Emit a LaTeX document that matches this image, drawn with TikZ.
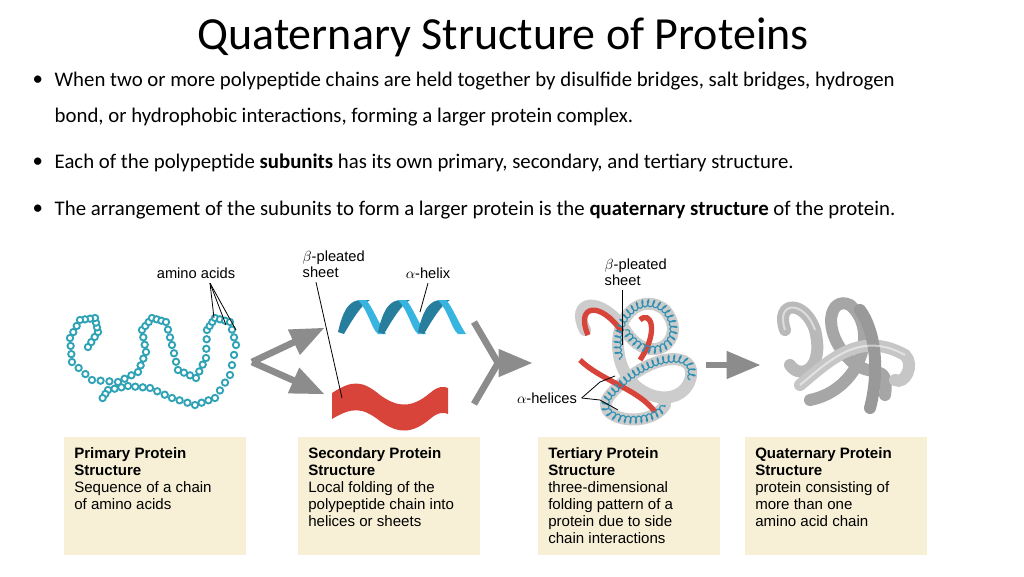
\documentclass[tikz,border=0pt]{standalone}
\usepackage{fontspec}
\setmainfont{Carlito}
\newfontfamily\figfont{Liberation Sans}
\usetikzlibrary{positioning,calc,arrows,decorations.pathmorphing}

\definecolor{beige}{HTML}{F7F0D6}
\definecolor{bead}{HTML}{2FA3B5}
\definecolor{helixblue}{HTML}{38B4E0}
\definecolor{sheetred}{HTML}{D9443A}
\definecolor{arrowgray}{HTML}{8C8C8C}

\tikzset{
	capbox/.style={fill=beige, minimum width=136pt, minimum height=88pt, anchor=north west},
	captext/.style={font=\figfont\fontsize{11.3}{12.8}\selectfont, align=left, anchor=north west, inner sep=0pt},
	figlabel/.style={font=\figfont\fontsize{11}{12}\selectfont, align=left},
	bullettext/.style={anchor=west, font=\fontsize{15.6}{18}\selectfont},
	pointer/.style={black, line width=0.6pt},
	bigarrow/.style={arrowgray, line width=5pt, -triangle 45},
	tube/.style={line width=9pt, line cap=round},
	beadstyle/.style={draw=bead, line width=1.4pt, fill=white},
}

\begin{document}
\begin{tikzpicture}[x=0.75pt, y=-0.75pt, >=stealth']
	\useasboundingbox (0,0) rectangle (1024,576);

	% title and bullets
	\node (title) at (503,37) {\fontsize{34.5}{38}\selectfont Quaternary Structure of Proteins};
	\foreach \y in {81,163,210} \node[bullettext] at (28,\y) {\textbullet};
	\node[bullettext] (b1) at (50,81) {When two or more polypeptide chains are held together by disulfide bridges, salt bridges, hydrogen};
	\node[bullettext] (b1b) at (50,117) {bond, or hydrophobic interactions, forming a larger protein complex.};
	\node[bullettext] (b2) at (50,163) {Each of the polypeptide \textbf{subunits} has its own primary, secondary, and tertiary structure.};
	\node[bullettext] (b3) at (50,210) {The arrangement of the subunits to form a larger protein is the \textbf{quaternary structure} of the protein.};

	% caption boxes
	\node[capbox] (box1) at (64,437) {};
	\node[capbox] (box2) at (298,437) {};
	\node[capbox] (box3) at (538,437) {};
	\node[capbox] (box4) at (745,437) {};
	\node[captext] at ($(box1.north west)+(10,10)$) {\textbf{Primary Protein}\\\textbf{Structure}\\Sequence of a chain\\of amino acids};
	\node[captext] at ($(box2.north west)+(10,10)$) {\textbf{Secondary Protein}\\\textbf{Structure}\\Local folding of the\\polypeptide chain into\\helices or sheets};
	\node[captext] at ($(box3.north west)+(10,10)$) {\textbf{Tertiary Protein}\\\textbf{Structure}\\three-dimensional\\folding pattern of a\\protein due to side\\chain interactions};
	\node[captext] at ($(box4.north west)+(10,10)$) {\textbf{Quaternary Protein}\\\textbf{Structure}\\protein consisting of\\more than one\\amino acid chain};

	% primary: bead chain
	\foreach \a/\b in {88/347, 98/332, 95/318, 80/320, 70/338, 72/362, 92/380, 118/382, 138/372, 146/352, 142/330, 152/318, 166/322, 172/345, 178/370, 196/378, 206/358, 207/330, 215/318, 230/322, 236/345, 230/375, 215/398, 195/405, 172/398, 150/388, 128/386, 108/390, 100/402}
		\coordinate (p\a-\b) at (\a,\b);
	\foreach \a/\b in {88-347/98-332, 98-332/95-318, 95-318/80-320, 80-320/70-338, 70-338/72-362, 72-362/92-380, 92-380/118-382, 118-382/138-372, 138-372/146-352, 146-352/142-330, 142-330/152-318, 152-318/166-322, 166-322/172-345, 172-345/178-370, 178-370/196-378, 196-378/206-358, 206-358/207-330, 207-330/215-318, 215-318/230-322, 230-322/236-345, 236-345/230-375, 230-375/215-398, 215-398/195-405, 195-405/172-398, 172-398/150-388, 150-388/128-386, 128-386/108-390, 108-390/100-402}
		\foreach \t in {0,0.33,0.67}
			\draw[beadstyle] ($(p\a)!\t!(p\b)$) circle (3.2);
	\node[figlabel] (amino) at (196,273) {amino acids};
	\coordinate (aa1) at (214,318);
	\coordinate (aa2) at (226,325);
	\coordinate (aa3) at (236,330);
	\foreach \c in {aa1,aa2,aa3} \draw[pointer] ($(amino.south)+(14,0)$) -- (\c);

	% arrows between stages
	\coordinate (split) at (252,362);
	\coordinate (join) at (498,363);
	\draw[bigarrow] (split) -- (324,328);
	\draw[bigarrow] (split) -- (324,394);
	\draw[arrowgray, line width=5pt] (474,322) -- (join) -- (474,404);
	\draw[bigarrow] (join) -- (532,363);
	\draw[bigarrow] (706,365) -- (760,365);

	% secondary: helix and sheet
	\foreach \i in {0,1,2} {
		\fill[helixblue!70!black] (338+\i*40,332) .. controls (345+\i*40,300) and (355+\i*40,300) .. (364+\i*40,300)
			-- (370+\i*40,300) .. controls (362+\i*40,304) and (352+\i*40,320) .. (344+\i*40,334) -- cycle;
		\fill[helixblue] (358+\i*40,300) .. controls (368+\i*40,310) and (372+\i*40,330) .. (378+\i*40,334)
			-- (386+\i*40,334) .. controls (378+\i*40,322) and (372+\i*40,306) .. (366+\i*40,300) -- cycle;
	}
	\fill[sheetred] (332,393) .. controls (352,380) and (362,380) .. (380,395) .. controls (398,408) and (412,408) .. (430,393) .. controls (438,386) and (444,386) .. (448,388)
		-- (448,414) .. controls (444,412) and (438,412) .. (430,419) .. controls (412,434) and (398,434) .. (380,421) .. controls (362,407) and (352,407) .. (332,419) -- cycle;
	\node[figlabel, anchor=north west] (sheetlbl) at (298,246) {$\beta$-pleated\\sheet};
	\node[figlabel] (helixlbl) at (428,273) {$\alpha$-helix};
	\draw[pointer] ($(sheetlbl.south west)+(18,0)$) -- (342,398);
	\draw[pointer] (helixlbl.south) -- (420,312);

	% tertiary: folded chain
	\draw[gray!40, tube] (585,330) .. controls (570,300) and (600,295) .. (625,330) .. controls (650,370) and (690,340) .. (665,310) .. controls (640,290) and (610,320) .. (620,360) .. controls (630,400) and (680,410) .. (690,380) .. controls (700,350) and (650,350) .. (610,395) .. controls (590,420) and (650,430) .. (665,405);
	\draw[sheetred, line width=4pt] (588,335) .. controls (575,305) and (600,300) .. (622,332);
	\draw[sheetred, line width=4pt] (640,360) .. controls (660,330) and (650,310) .. (640,320);
	\draw[sheetred, line width=4pt] (655,412) .. controls (640,390) and (600,380) .. (580,360);
	\draw[helixblue!80!black, line width=0.8pt, decorate, decoration={coil, segment length=4pt, amplitude=2.5pt}] (625,330) .. controls (650,370) and (690,340) .. (665,310) .. controls (640,290) and (610,320) .. (620,360);
	\draw[helixblue!80!black, line width=0.8pt, decorate, decoration={coil, segment length=4pt, amplitude=2.5pt}] (690,380) .. controls (700,350) and (650,350) .. (610,395) .. controls (590,420) and (650,430) .. (665,405);
	\node[figlabel, anchor=north west] (tsheet) at (600,254) {$\beta$-pleated\\sheet};
	\node[figlabel] (helices) at (547,398) {$\alpha$-helices};
	\draw[pointer] ($(tsheet.south west)+(22,0)$) -- (622,345);
	\draw[pointer] (helices.east) -- (600,382) -- (615,376);
	\draw[pointer] (helices.east) -- (600,400) -- (618,410);

	% quaternary: several grey chains
	\draw[gray!55, tube] (785,330) .. controls (775,300) and (805,300) .. (815,330) .. controls (825,370) and (800,380) .. (790,365);
	\draw[gray!70, tube] (810,400) .. controls (860,390) and (880,330) .. (850,305) .. controls (830,295) and (820,330) .. (850,360) .. controls (870,380) and (890,360) .. (885,395);
	\draw[gray!45, tube] (800,385) .. controls (830,360) and (860,330) .. (905,355) .. controls (915,365) and (905,385) .. (895,380);
	\draw[gray!80, tube] (860,310) .. controls (875,330) and (880,370) .. (870,408);
	\draw[white, line width=1.5pt, opacity=0.5] (785,330) .. controls (775,300) and (805,300) .. (815,330);
	\draw[white, line width=1.5pt, opacity=0.5] (800,385) .. controls (830,360) and (860,330) .. (905,355);
\end{tikzpicture}
\end{document}
